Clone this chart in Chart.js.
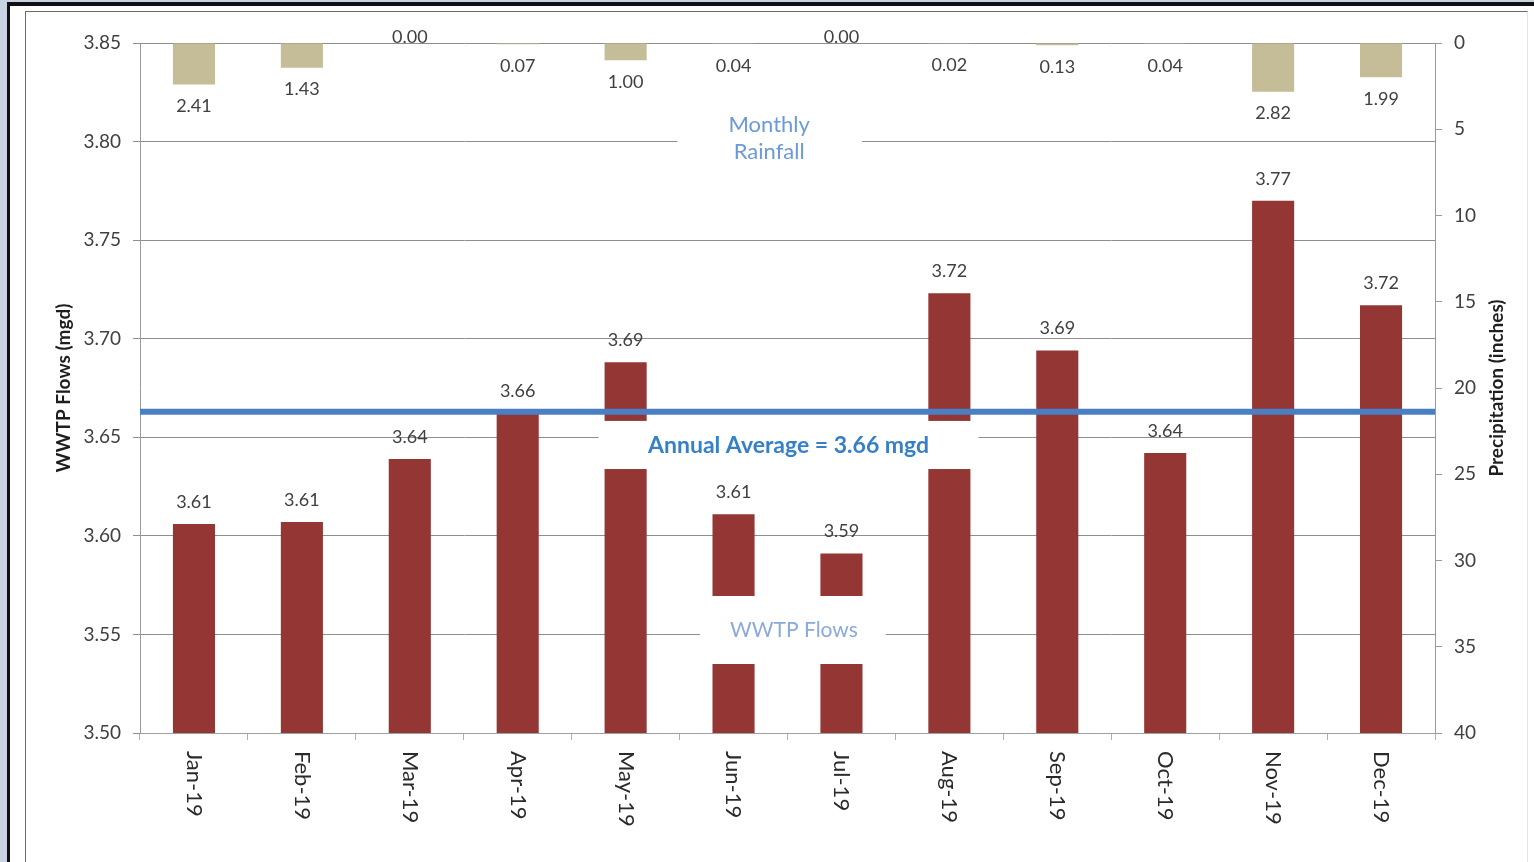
<!DOCTYPE html>
<html>
<head>
<meta charset="utf-8">
<script src="https://cdn.jsdelivr.net/npm/chart.js@4/dist/chart.umd.min.js"></script>
<style>
  html,body{margin:0;padding:0;width:1534px;height:862px;overflow:hidden;background:#c8d4e2;}
  #outer{position:absolute;left:7px;top:2px;right:0;bottom:0;background:#fff;border-left:3px solid #111;border-top:4px solid #111;}
  #inner{position:absolute;left:25px;top:11px;width:1503px;height:860px;border:1px solid #6a6a6a;border-right-color:#e4e4e4;box-sizing:border-box;}
  canvas{position:absolute;left:0;top:0;}
</style>
</head>
<body>
<div id="outer"></div>
<div id="inner"></div>
<canvas id="c" width="1534" height="862"></canvas>
<script>
// ---- data ----
const months = ["Jan-19","Feb-19","Mar-19","Apr-19","May-19","Jun-19","Jul-19","Aug-19","Sep-19","Oct-19","Nov-19","Dec-19"];
const flows = [3.606, 3.607, 3.639, 3.662, 3.688, 3.611, 3.591, 3.723, 3.694, 3.642, 3.770, 3.717];
const rainfall = [2.41, 1.43, 0.00, 0.07, 1.00, 0.04, 0.00, 0.02, 0.13, 0.04, 2.82, 1.99];
const annualAverage = 3.663;
const flowTicks = [3.50, 3.55, 3.60, 3.65, 3.70, 3.75, 3.80, 3.85];
const rainTicks = [0, 5, 10, 15, 20, 25, 30, 35, 40];

const FONT = "Lato, 'Open Sans', sans-serif";
Chart.defaults.font.family = FONT;

const overlayPlugin = {
  id: 'overlay',
  afterDatasetsDraw(chart) {
    const ctx = chart.ctx;
    const y = chart.scales.y, y1 = chart.scales.y1, x = chart.scales.x, xl = chart.scales.x2;
    ctx.save();
    // white callout boxes
    const boxes = [
      {x0: 4.98, x1: 6.69, yTop: 3.8165, yBot: 3.7870},
      {x0: 4.25, x1: 7.77, yTop: 3.6583, yBot: 3.6339},
      {x0: 5.19, x1: 6.91, yTop: 3.5695, yBot: 3.5350}
    ];
    ctx.fillStyle = '#ffffff';
    boxes.forEach(b => {
      const l = xl.getPixelForValue(b.x0), r = xl.getPixelForValue(b.x1);
      const t = y.getPixelForValue(b.yTop), bt = y.getPixelForValue(b.yBot);
      ctx.fillRect(l, t, r - l, bt - t);
    });
    // callout texts
    ctx.textAlign = 'center';
    ctx.textBaseline = 'middle';
    ctx.fillStyle = '#6a9ad8';
    ctx.font = "22px " + FONT;
    ctx.fillText('Monthly', xl.getPixelForValue(5.83), y.getPixelForValue(3.8084));
    ctx.fillText('Rainfall', xl.getPixelForValue(5.83), y.getPixelForValue(3.7947));
    ctx.fillStyle = '#8aa9dc';
    ctx.font = "21px " + FONT;
    ctx.fillText('WWTP Flows', xl.getPixelForValue(6.06), y.getPixelForValue(3.5522));
    ctx.fillStyle = '#3580c6';
    ctx.font = "bold 23px " + FONT;
    ctx.fillText('Annual Average = ' + annualAverage.toFixed(2) + ' mgd', xl.getPixelForValue(6.01), y.getPixelForValue(3.6456));

    // data labels
    ctx.font = "18px " + FONT;
    ctx.fillStyle = '#404040';
    flows.forEach((v, i) => {
      ctx.fillText(v.toFixed(2), x.getPixelForValue(i), y.getPixelForValue(v) - 22);
    });
    rainfall.forEach((v, i) => {
      const py = y1.getPixelForValue(v);
      ctx.fillText(v.toFixed(2), x.getPixelForValue(i), v === 0 ? py - 6 : py + 22);
    });

    // month labels (rotated clockwise)
    ctx.font = "22px " + FONT;
    ctx.fillStyle = '#2a2a2a';
    ctx.textAlign = 'left';
    months.forEach((m, i) => {
      ctx.save();
      ctx.translate(x.getPixelForValue(i), x.top + 18);
      ctx.rotate(Math.PI / 2);
      ctx.fillText(m, 0, 0);
      ctx.restore();
    });

    // axis titles (both read bottom-to-top)
    ctx.font = "bold 19px " + FONT;
    ctx.fillStyle = '#1e1e1e';
    ctx.textAlign = 'center';
    const cy = (chart.chartArea.top + chart.chartArea.bottom) / 2;
    [[64, 'WWTP Flows (mgd)'], [1497, 'Precipitation (inches)']].forEach(([px, t]) => {
      ctx.save();
      ctx.translate(px, cy);
      ctx.rotate(-Math.PI / 2);
      ctx.fillText(t, 0, 0);
      ctx.restore();
    });
    ctx.restore();
  }
};

new Chart(document.getElementById('c'), {
  type: 'bar',
  data: {
    labels: months,
    datasets: [
      {
        type: 'line',
        label: 'Annual Average',
        data: [{x: 0, y: annualAverage}, {x: 12, y: annualAverage}],
        xAxisID: 'x2', yAxisID: 'y',
        borderColor: '#4a7fc4', borderWidth: 6, pointRadius: 0, fill: false,
        order: 0
      },
      {
        label: 'Monthly Rainfall',
        data: rainfall,
        xAxisID: 'x', yAxisID: 'y1',
        backgroundColor: '#c4bd97',
        grouped: false, categoryPercentage: 1, barPercentage: 0.39,
        order: 2
      },
      {
        label: 'WWTP Flows',
        data: flows,
        xAxisID: 'x', yAxisID: 'y',
        backgroundColor: '#943634',
        grouped: false, categoryPercentage: 1, barPercentage: 0.39,
        order: 1
      }
    ]
  },
  options: {
    responsive: false,
    animation: false,
    events: [],
    layout: {padding: {left: 30, right: 0, top: 43, bottom: 0}},
    plugins: {legend: {display: false}, tooltip: {enabled: false}},
    scales: {
      x: {
        type: 'category',
        position: 'bottom',
        offset: true,
        grid: {display: true, drawOnChartArea: false, offset: true, color: '#b0b0b0', tickLength: 7},
        border: {color: '#a0a0a0', width: 1},
        ticks: {display: false},
        afterFit: s => { s.height = 129; }
      },
      x2: {
        type: 'linear', display: false, min: 0, max: 12, offset: false,
        grid: {offset: false}
      },
      y: {
        position: 'left',
        min: 3.50, max: 3.85,
        afterBuildTicks: s => { s.ticks = flowTicks.map(v => ({value: v})); },
        grid: {color: '#8e8e8e', lineWidth: 1, tickLength: 7},
        border: {color: '#9a9a9a'},
        ticks: {color: '#404040', font: {size: 19}, padding: 12, callback: v => Number(v).toFixed(2)},
        afterFit: s => { s.width = 110; }
      },
      y1: {
        position: 'right',
        min: 0, max: 40, reverse: true,
        afterBuildTicks: s => { s.ticks = rainTicks.map(v => ({value: v})); },
        grid: {drawOnChartArea: false, color: '#9a9a9a', tickLength: 7},
        border: {color: '#9a9a9a'},
        ticks: {color: '#404040', font: {size: 19}, padding: 12},
        afterFit: s => { s.width = 99; }
      }
    }
  },
  plugins: [overlayPlugin]
});
</script>
</body>
</html>
